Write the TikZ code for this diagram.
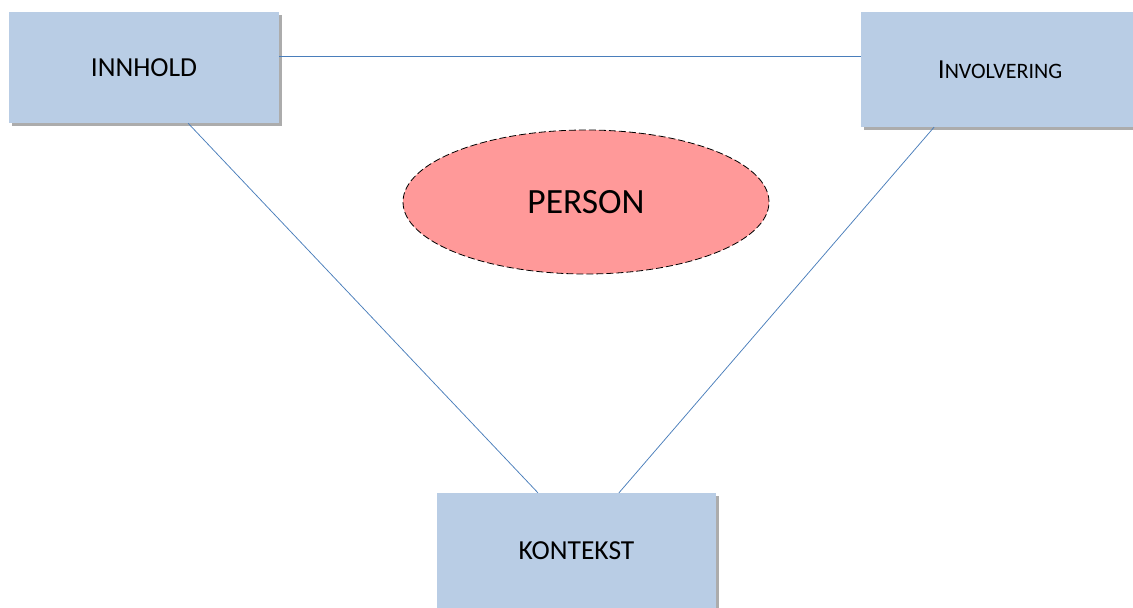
\documentclass[tikz,border=0pt]{standalone}
\usepackage{fontspec}
\setmainfont{Carlito}
\usetikzlibrary{shadows,shapes.geometric,calc}
\definecolor{boxblue}{HTML}{B9CDE5}
\definecolor{linkblue}{HTML}{4A7EBB}
\definecolor{personred}{HTML}{FF9999}
\tikzset{
  topic/.style={rectangle, fill=boxblue, inner sep=0pt, font=\fontsize{27.5}{32}\selectfont,
    drop shadow={shadow xshift=3pt, shadow yshift=-3pt, fill=black!50, opacity=0.65}},
  link/.style={draw=linkblue, line width=0.75pt},
  person/.style={ellipse, draw=black, dashed, dash pattern=on 7pt off 3pt, line width=0.8pt,
    fill=personred, inner sep=0pt, font=\fontsize{35.5}{40}\selectfont}
}
\begin{document}
\begin{tikzpicture}[x=1pt,y=-1pt]
  \useasboundingbox (0,0) rectangle (1133,608);
  % the three topic boxes
  \node[topic, minimum width=270pt, minimum height=111pt] (inn) at (144,67.5) {INNHOLD};
  \node[topic, minimum width=278pt, minimum height=115pt] (inv) at (1000,69.5)
    {I{\fontsize{22}{26}\selectfont NVOLVERING}};
  \node[topic, minimum width=279pt, minimum height=116pt] (kon) at (576.5,551) {KONTEKST};
  % central ellipse
  \node[person, minimum width=366pt, minimum height=144pt] (per) at (586,202) {PERSON};
  % connecting lines between the boxes
  \coordinate (innR) at ($(inn.north east)!0.396!(inn.south east)$);
  \draw[link] (innR) -- (innR -| inv.west);
  \draw[link] ($(inn.south west)!0.663!(inn.south east)$) -- ($(kon.north west)!0.362!(kon.north east)$);
  \draw[link] ($(inv.south west)!0.263!(inv.south east)$) -- ($(kon.north west)!0.652!(kon.north east)$);
\end{tikzpicture}
\end{document}
